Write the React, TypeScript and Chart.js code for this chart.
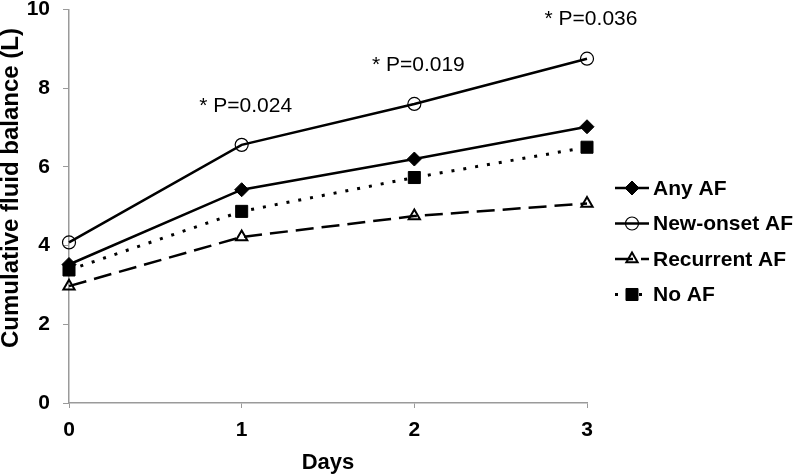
import React, { useEffect, useRef } from 'react';
import { Chart, registerables } from 'chart.js';
import { drawPoint } from 'chart.js/helpers';
Chart.register(...registerables);

const days = ['0', '1', '2', '3'];
const anyAF = [3.52, 5.42, 6.2, 7.02];
const newOnsetAF = [4.08, 6.56, 7.6, 8.75];
const recurrentAF = [2.97, 4.22, 4.75, 5.07];
const noAF = [3.38, 4.87, 5.73, 6.5];
const pLabels = ['', '* P=0.024', '* P=0.019', '* P=0.036'];
const seriesNames = ['Any AF', 'New-onset AF', 'Recurrent AF', 'No AF'];
const yTitle = 'Cumulative fluid balance (L)';

const FONT = "'Liberation Sans', Arial, sans-serif";

const annotationPlugin = {
  id: 'pAnnot',
  afterDatasetsDraw(chart: any) {
    const { ctx, scales } = chart;
    ctx.save();
    ctx.font = `21px ${FONT}`;
    ctx.fillStyle = '#000';
    ctx.textAlign = 'center';
    ctx.textBaseline = 'middle';
    pLabels.forEach((t, i) => {
      if (!t) return;
      const x = scales.x.getPixelForValue(i);
      const y = scales.y.getPixelForValue(newOnsetAF[i]) - 39;
      ctx.fillText(t, x + 4, y);
    });
    ctx.restore();
  },
};

const yTitlePlugin = {
  id: 'yTitle',
  afterDraw(chart: any) {
    const { ctx } = chart;
    ctx.save();
    ctx.translate(11, 188);
    ctx.rotate(-Math.PI / 2);
    ctx.font = `bold 24px ${FONT}`;
    ctx.fillStyle = '#000';
    ctx.textAlign = 'center';
    ctx.textBaseline = 'middle';
    ctx.fillText(yTitle, 0, 0);
    ctx.restore();
  },
};

const legendPlugin = {
  id: 'customLegend',
  afterDraw(chart: any) {
    const { ctx } = chart;
    ctx.save();
    const x0 = 615, x1 = 649, tx = 653;
    const y0 = 188, dy = 35.5;
    chart.data.datasets.forEach((ds: any, i: number) => {
      const y = y0 + i * dy;
      ctx.save();
      ctx.strokeStyle = '#000';
      ctx.lineWidth = ds.borderWidth;
      ctx.setLineDash(ds.borderDash || []);
      ctx.beginPath();
      ctx.moveTo(x0, y);
      ctx.lineTo(x1, y);
      ctx.stroke();
      ctx.restore();
      ctx.save();
      ctx.fillStyle = ds.pointBackgroundColor;
      ctx.strokeStyle = '#000';
      ctx.lineWidth = ds.pointBorderWidth;
      ctx.setLineDash([]);
      drawPoint(ctx, { pointStyle: ds.pointStyle, radius: ds.pointRadius, rotation: 0, borderWidth: ds.pointBorderWidth }, (x0 + x1) / 2, y);
      ctx.restore();
      ctx.font = `bold 21px ${FONT}`;
      ctx.fillStyle = '#000';
      ctx.textAlign = 'left';
      ctx.textBaseline = 'middle';
      ctx.fillText(ds.label, tx, y + 1);
    });
    ctx.restore();
  },
};

export default function App() {
  const ref = useRef<HTMLCanvasElement>(null);
  useEffect(() => {
    if (!ref.current) return;
    const chart = new Chart(ref.current, {
      type: 'line',
      data: {
        labels: days,
        datasets: [
          {
            label: seriesNames[0], data: anyAF, borderColor: '#000', borderWidth: 2.5,
            pointStyle: 'rectRot', pointRadius: 7, pointBackgroundColor: '#000', pointBorderColor: '#000', pointBorderWidth: 1,
          },
          {
            label: seriesNames[1], data: newOnsetAF, borderColor: '#000', borderWidth: 2.5,
            pointStyle: 'circle', pointRadius: 6.5, pointBackgroundColor: 'rgba(0,0,0,0)', pointBorderColor: '#000', pointBorderWidth: 1.2,
          },
          {
            label: seriesNames[2], data: recurrentAF, borderColor: '#000', borderWidth: 2.5, borderDash: [18, 8],
            pointStyle: 'triangle', pointRadius: 6.5, pointBackgroundColor: 'rgba(0,0,0,0)', pointBorderColor: '#000', pointBorderWidth: 2,
          },
          {
            label: seriesNames[3], data: noAF, borderColor: '#000', borderWidth: 3, borderDash: [3, 9],
            pointStyle: 'rect', pointRadius: 8.5, pointBackgroundColor: '#000', pointBorderColor: '#000', pointBorderWidth: 1,
          },
        ],
      },
      options: {
        animation: false,
        responsive: false,
        maintainAspectRatio: false,
        layout: { padding: { top: 0, right: 213, left: 0, bottom: 0 } },
        plugins: { legend: { display: false }, tooltip: { enabled: false } },
        scales: {
          x: {
            offset: false,
            grid: { display: true, drawOnChartArea: false, drawTicks: true, tickLength: 5, color: '#9a9a9a' },
            border: { color: '#9a9a9a', width: 1.5 },
            ticks: { color: '#000', font: { family: FONT, size: 21, weight: 'bold', lineHeight: 1 }, padding: 12 },
            title: { display: true, text: 'Days', color: '#000', font: { family: FONT, size: 22, weight: 'bold', lineHeight: 1 }, padding: { top: 11, bottom: 1 } },
            afterFit(scale: any) {
              scale.height = 72;
              scale.paddingLeft = 0;
              scale.paddingRight = 0;
            },
          },
          y: {
            min: 0, max: 10,
            grid: { display: true, drawOnChartArea: false, drawTicks: true, tickLength: 6, color: '#9a9a9a' },
            border: { color: '#9a9a9a', width: 1.5 },
            ticks: { stepSize: 2, color: '#000', font: { family: FONT, size: 21, weight: 'bold', lineHeight: 1 }, padding: 13 },
            title: { display: false },
            afterFit(scale: any) {
              scale.width = 69;
              scale.paddingTop = 7;
              scale.paddingBottom = 0;
            },
          },
        },
      },
      plugins: [annotationPlugin, yTitlePlugin, legendPlugin],
    });
    return () => chart.destroy();
  }, []);
  return (
    <div style={{ position: 'fixed', left: 0, top: 0, width: 800, height: 475, background: '#fff' }}>
      <canvas ref={ref} width={800} height={475} style={{ width: 800, height: 475 }} />
    </div>
  );
}
